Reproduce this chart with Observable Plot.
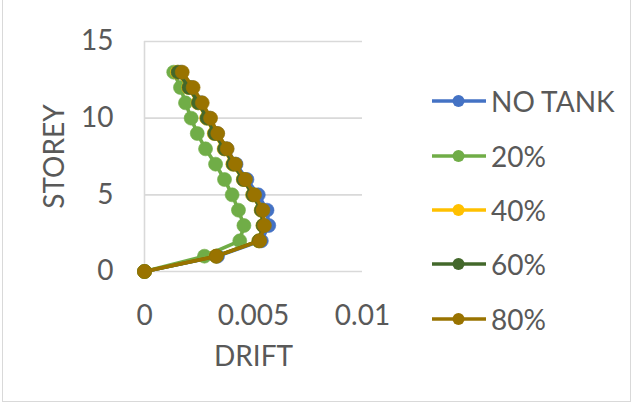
<!DOCTYPE html>
<html>
<head>
<meta charset="utf-8">
<script src="https://cdn.jsdelivr.net/npm/d3@7"></script>
<script src="https://cdn.jsdelivr.net/npm/@observablehq/plot@0.6"></script>
<style>
  html, body { margin: 0; padding: 0; background: #fff; }
  #chart { position: relative; width: 635px; height: 407px; overflow: hidden; font-family: Lato, "Open Sans", sans-serif; }
  #chart .border { position: absolute; left: 2px; top: -2px; width: 629px; height: 404px; border: 1px solid #d9d9d9; box-sizing: border-box; pointer-events: none; }
  #legend { position: absolute; left: 0; top: 0; }
  .item { position: absolute; left: 431px; height: 30px; display: flex; align-items: center; color: #595959; font-size: 28px; white-space: nowrap; }
  .item svg { display: block; margin-right: 4px; flex: none; }
</style>
</head>
<body>
<div id="chart"><div class="border"></div><div id="legend"></div></div>
<script>
// Storey levels and inter-storey drift for each water-tank fill level
const storeys = [0, 1, 2, 3, 4, 5, 6, 7, 8, 9, 10, 11, 12, 13];
const noTank = [0, 0.00335, 0.00536, 0.00570, 0.00562, 0.00522, 0.00470, 0.00420, 0.00378, 0.00334, 0.00299, 0.00260, 0.00216, 0.00166];
const pct20  = [0, 0.00275, 0.00437, 0.00456, 0.00431, 0.00402, 0.00367, 0.00326, 0.00280, 0.00242, 0.00214, 0.00188, 0.00165, 0.00134];
const pct40  = [0, 0.00328, 0.00524, 0.00543, 0.00535, 0.00496, 0.00453, 0.00405, 0.00365, 0.00320, 0.00285, 0.00245, 0.00202, 0.00151];
const pct60  = [0, 0.00329, 0.00525, 0.00544, 0.00536, 0.00497, 0.00454, 0.00407, 0.00367, 0.00322, 0.00287, 0.00247, 0.00204, 0.00154];
const pct80  = [0, 0.00330, 0.00529, 0.00550, 0.00543, 0.00505, 0.00463, 0.00417, 0.00379, 0.00336, 0.00303, 0.00265, 0.00223, 0.00173];

const seriesNames = ["NO TANK", "20%", "40%", "60%", "80%"];
const seriesValues = [noTank, pct20, pct40, pct60, pct80];
const seriesColors = ["#4472c4", "#70ad47", "#ffc000", "#43682b", "#997300"];

const xTicks = [0, 0.005, 0.01];
const yTicks = [0, 5, 10, 15];

const rows = seriesNames.flatMap((name, i) =>
  storeys.map((s, j) => ({series: name, storey: s, drift: seriesValues[i][j]}))
);

const textColor = "#595959";
const gridColor = "#d9d9d9";

// Each series draws its line and markers together, later series on top
const seriesMarks = seriesNames.flatMap((name, i) => {
  const d = rows.filter(r => r.series === name);
  return [
    Plot.line(d, {x: "drift", y: "storey", stroke: seriesColors[i], strokeWidth: 3.6, curve: "linear"}),
    Plot.dot(d, {x: "drift", y: "storey", r: 7, fill: seriesColors[i], stroke: seriesColors[i], strokeWidth: 0.6})
  ];
});

const plot = Plot.plot({
  width: 635,
  height: 407,
  marginLeft: 144,
  marginRight: 273,
  marginTop: 41,
  marginBottom: 136,
  style: {fontFamily: "Lato, 'Open Sans', sans-serif", fontSize: "28px", color: textColor, background: "transparent", overflow: "visible"},
  x: {domain: [0, 0.01]},
  y: {domain: [0, 15]},
  marks: [
    Plot.gridY(yTicks.filter(t => t > 0), {stroke: gridColor, strokeOpacity: 1, strokeWidth: 1.6}),
    Plot.ruleY([0], {stroke: gridColor, strokeWidth: 1.6}),
    Plot.ruleX([0], {stroke: gridColor, strokeWidth: 1.6}),
    Plot.axisX(xTicks, {tickSize: 0, tickPadding: 34, tickFormat: d => String(d), label: null, fill: textColor, fontSize: 28}),
    Plot.axisY(yTicks, {tickSize: 0, tickPadding: 31, label: null, fill: textColor, fontSize: 28}),
    ...seriesMarks,
    Plot.text(["DRIFT"], {frameAnchor: "bottom", dy: 86, textAnchor: "middle", lineAnchor: "middle", fill: textColor, fontSize: 28}),
    Plot.text(["STOREY"], {frameAnchor: "left", dx: -89, textAnchor: "middle", lineAnchor: "middle", rotate: -90, fill: textColor, fontSize: 28})
  ]
});

const chart = document.getElementById("chart");
chart.insertBefore(plot, chart.firstChild);

// Legend: one row per series, a short line with a marker beside the name
const legend = document.getElementById("legend");
const rowTops = [100.7, 156, 209.6, 264, 319.3];
seriesNames.forEach((name, i) => {
  const item = document.createElement("div");
  item.className = "item";
  item.style.top = (rowTops[i] - 15) + "px";
  item.innerHTML =
    `<svg width="56" height="16"><line x1="1" y1="8" x2="55" y2="8" stroke="${seriesColors[i]}" stroke-width="3.6"/>` +
    `<circle cx="27.5" cy="8" r="6" fill="${seriesColors[i]}"/></svg><span>${name}</span>`;
  legend.appendChild(item);
});
</script>
</body>
</html>
